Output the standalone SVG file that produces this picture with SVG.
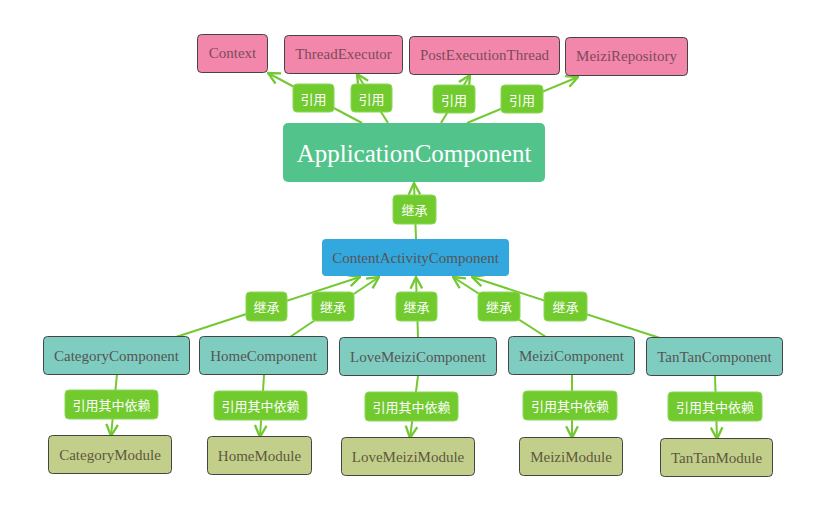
<svg xmlns="http://www.w3.org/2000/svg" width="822" height="532" viewBox="0 0 822 532">
<style>
.pink{fill:#f386ab;stroke:#444;stroke-width:1}
.teal{fill:#7ecdc0;stroke:#444;stroke-width:1}
.olive{fill:#c2cf8a;stroke:#444;stroke-width:1}
.app{fill:#52c48b}
.blue{fill:#33a8de}
.t{font-family:"Liberation Serif",serif;font-size:15px;text-anchor:middle;dominant-baseline:central}
.tp{fill:#7d4b5b}
.tt{fill:#555}
.to{fill:#5e5840}
.ta{fill:#fff;font-size:25px}
.edge{stroke:#72c932;stroke-width:2;fill:none}
.lb{fill:#72cb2e;stroke:#8ad856;stroke-width:1}
.lt{font-family:"Noto Sans CJK SC","Noto Sans",sans-serif;font-size:13px;fill:#fff;text-anchor:middle;dominant-baseline:central}
</style>
<defs>
<marker id="arr" markerUnits="userSpaceOnUse" markerWidth="14" markerHeight="14" viewBox="0 0 12 12" refX="11" refY="6" orient="auto">
<path d="M1,1 L11,6 L1,11" fill="none" stroke="#72c932" stroke-width="2"/>
</marker>
</defs>
<g id="connectors">
<line class="edge" x1="362" y1="123" x2="268" y2="73" marker-end="url(#arr)"/>
<line class="edge" x1="388" y1="123" x2="357" y2="74" marker-end="url(#arr)"/>
<line class="edge" x1="441" y1="123" x2="470" y2="75" marker-end="url(#arr)"/>
<line class="edge" x1="467" y1="123" x2="578" y2="77" marker-end="url(#arr)"/>
<line class="edge" x1="416" y1="239" x2="414" y2="183" marker-end="url(#arr)"/>
<line class="edge" x1="176" y1="337" x2="360" y2="277" marker-end="url(#arr)"/>
<line class="edge" x1="290" y1="337" x2="379" y2="277" marker-end="url(#arr)"/>
<line class="edge" x1="418" y1="337" x2="416" y2="277" marker-end="url(#arr)"/>
<line class="edge" x1="546" y1="337" x2="453" y2="277" marker-end="url(#arr)"/>
<line class="edge" x1="660" y1="338" x2="472" y2="277" marker-end="url(#arr)"/>
<line class="edge" x1="117" y1="374" x2="111" y2="436" marker-end="url(#arr)"/>
<line class="edge" x1="264" y1="375" x2="260" y2="437" marker-end="url(#arr)"/>
<line class="edge" x1="418" y1="376" x2="410" y2="438" marker-end="url(#arr)"/>
<line class="edge" x1="572" y1="374" x2="572" y2="438" marker-end="url(#arr)"/>
<line class="edge" x1="715" y1="376" x2="717" y2="439" marker-end="url(#arr)"/>
<g id="edge-labels">
<rect class="lb" x="293" y="84" width="41" height="28" rx="4"/><text class="lt" x="313.5" y="98">引用</text>
<rect class="lb" x="351" y="84" width="41" height="28" rx="4"/><text class="lt" x="371.5" y="98">引用</text>
<rect class="lb" x="433" y="85" width="42" height="28" rx="4"/><text class="lt" x="454" y="99">引用</text>
<rect class="lb" x="501" y="85" width="42" height="28" rx="4"/><text class="lt" x="522" y="99">引用</text>
<rect class="lb" x="393" y="195" width="43" height="29" rx="4"/><text class="lt" x="414.5" y="209.5">继承</text>
<rect class="lb" x="246" y="292" width="41" height="29" rx="4"/><text class="lt" x="266.5" y="306.5">继承</text>
<rect class="lb" x="312" y="292" width="42" height="29" rx="4"/><text class="lt" x="333" y="306.5">继承</text>
<rect class="lb" x="396" y="292" width="41" height="29" rx="4"/><text class="lt" x="416.5" y="306.5">继承</text>
<rect class="lb" x="478" y="292" width="42" height="29" rx="4"/><text class="lt" x="499" y="306.5">继承</text>
<rect class="lb" x="544" y="292" width="43" height="29" rx="4"/><text class="lt" x="565.5" y="306.5">继承</text>
<rect class="lb" x="65" y="390" width="93" height="29" rx="4"/><text class="lt" x="111.5" y="404.5">引用其中依赖</text>
<rect class="lb" x="214" y="391" width="93" height="29" rx="4"/><text class="lt" x="260.5" y="405.5">引用其中依赖</text>
<rect class="lb" x="365" y="392" width="93" height="29" rx="4"/><text class="lt" x="411.5" y="406.5">引用其中依赖</text>
<rect class="lb" x="523" y="391" width="94" height="29" rx="4"/><text class="lt" x="570" y="405.5">引用其中依赖</text>
<rect class="lb" x="668" y="392" width="94" height="29" rx="4"/><text class="lt" x="715" y="406.5">引用其中依赖</text>
</g>
</g>
<g id="Context"><rect class="pink" x="197.5" y="34.5" width="70" height="38" rx="4"/><text class="t tp" x="232.5" y="53">Context</text></g>
<g id="ThreadExecutor"><rect class="pink" x="284.5" y="35.5" width="118" height="38" rx="4"/><text class="t tp" x="343.5" y="54">ThreadExecutor</text></g>
<g id="PostExecutionThread"><rect class="pink" x="409.5" y="36.5" width="150" height="38" rx="4"/><text class="t tp" x="484.5" y="55">PostExecutionThread</text></g>
<g id="MeiziRepository"><rect class="pink" x="565.5" y="37.5" width="122" height="38" rx="4"/><text class="t tp" x="626.5" y="56">MeiziRepository</text></g>
<g id="ApplicationComponent"><rect class="app" x="283" y="123" width="262" height="59" rx="5"/><text class="t ta" x="414" y="153">ApplicationComponent</text></g>
<g id="ContentActivityComponent"><rect class="blue" x="322" y="239" width="187" height="37" rx="4"/><text class="t tt" x="415.5" y="257.5">ContentActivityComponent</text></g>
<g id="CategoryComponent"><rect class="teal" x="43.5" y="336.5" width="146" height="38" rx="4"/><text class="t tt" x="116.5" y="355.5">CategoryComponent</text></g>
<g id="HomeComponent"><rect class="teal" x="199.5" y="336.5" width="128" height="38" rx="4"/><text class="t tt" x="263.5" y="355.5">HomeComponent</text></g>
<g id="LoveMeiziComponent"><rect class="teal" x="339.5" y="337.5" width="157" height="38" rx="4"/><text class="t tt" x="418" y="356.5">LoveMeiziComponent</text></g>
<g id="MeiziComponent"><rect class="teal" x="508.5" y="336.5" width="126" height="38" rx="4"/><text class="t tt" x="571.5" y="355.5">MeiziComponent</text></g>
<g id="TanTanComponent"><rect class="teal" x="646.5" y="337.5" width="136" height="38" rx="4"/><text class="t tt" x="714.5" y="356.5">TanTanComponent</text></g>
<g id="CategoryModule"><rect class="olive" x="48.5" y="435.5" width="123" height="38" rx="4"/><text class="t to" x="110" y="454.5">CategoryModule</text></g>
<g id="HomeModule"><rect class="olive" x="207.5" y="436.5" width="104" height="38" rx="4"/><text class="t to" x="259.5" y="455.5">HomeModule</text></g>
<g id="LoveMeiziModule"><rect class="olive" x="341.5" y="437.5" width="133" height="38" rx="4"/><text class="t to" x="408" y="456.5">LoveMeiziModule</text></g>
<g id="MeiziModule"><rect class="olive" x="519.5" y="437.5" width="103" height="38" rx="4"/><text class="t to" x="571" y="456.5">MeiziModule</text></g>
<g id="TanTanModule"><rect class="olive" x="660.5" y="438.5" width="112" height="38" rx="4"/><text class="t to" x="716.5" y="457.5">TanTanModule</text></g>
</svg>
